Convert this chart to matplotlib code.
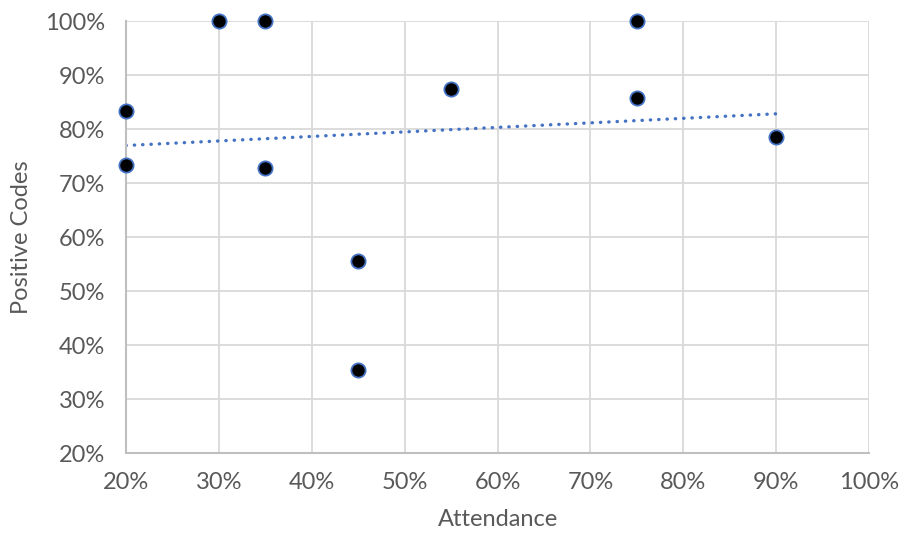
import numpy as np
import matplotlib.pyplot as plt
from matplotlib.ticker import MultipleLocator, FuncFormatter

# attendance vs share of positive codes (fractions)
attendance = [0.20, 0.20, 0.30, 0.35, 0.35, 0.45, 0.45, 0.55, 0.75, 0.75, 0.90]
positive = [0.833, 0.733, 1.00, 1.00, 0.727, 0.556, 0.353, 0.875, 1.00, 0.857, 0.786]

plt.rcParams['font.family'] = ['Lato', 'DejaVu Sans']
grey = '#595959'
blue = '#4472C4'

fig = plt.figure(figsize=(9.03, 5.33), dpi=100)
ax = fig.add_axes([0.1395, 0.150, 0.823, 0.8106])

ax.scatter(attendance, positive, s=105, c='black', edgecolors=blue, linewidths=1.3,
           zorder=3, clip_on=False)

# linear trendline
k, b = np.polyfit(attendance, positive, 1)
xs = np.array([min(attendance), max(attendance)])
ax.plot(xs, k * xs + b, color=blue, lw=2.4, ls=(0, (0.1, 2.4)), dash_capstyle='round', zorder=2)

ax.set_xlim(0.2, 1.0)
ax.set_ylim(0.2, 1.0)
ax.xaxis.set_major_locator(MultipleLocator(0.1))
ax.yaxis.set_major_locator(MultipleLocator(0.1))
pct = FuncFormatter(lambda v, p: f"{v*100:.0f}%")
ax.xaxis.set_major_formatter(pct)
ax.yaxis.set_major_formatter(pct)

ax.grid(True, color='#d9d9d9', lw=1.3)
ax.set_axisbelow(True)
for s in ['top', 'right']:
    ax.spines[s].set_visible(False)
for s in ['left', 'bottom']:
    ax.spines[s].set_color('#bfbfbf')
    ax.spines[s].set_linewidth(1.5)
ax.tick_params(length=0, labelsize=17, labelcolor=grey)
ax.tick_params(axis='x', pad=14)
ax.tick_params(axis='y', pad=15)

ax.set_xlabel('Attendance', fontsize=17, color=grey, labelpad=11)
ax.set_ylabel('Positive Codes', fontsize=17, color=grey)
ax.yaxis.set_label_coords(-0.126, 0.5)

fig.savefig('out.png', dpi=100)
